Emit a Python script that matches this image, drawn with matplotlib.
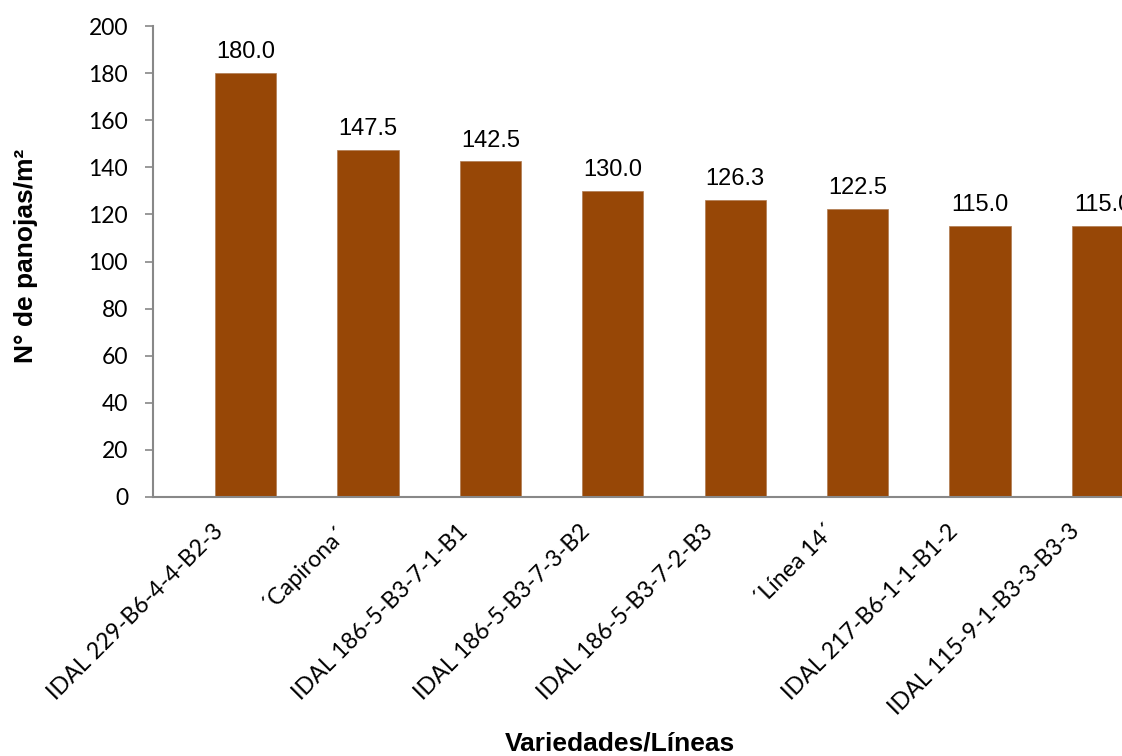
import matplotlib.pyplot as plt

variedades = ["IDAL 229-B6-4-4-B2-3", "´Capirona´", "IDAL 186-5-B3-7-1-B1",
              "IDAL 186-5-B3-7-3-B2", "IDAL 186-5-B3-7-2-B3", "´Línea 14´",
              "IDAL 217-B6-1-1-B1-2", "IDAL 115-9-1-B3-3-B3-3"]
panojas = [180.0, 147.5, 142.5, 130.0, 126.3, 122.5, 115.0, 115.0]
yticks = [0, 20, 40, 60, 80, 100, 120, 140, 160, 180, 200]

fig = plt.figure(figsize=(11.22, 7.56), dpi=100)
ax = fig.add_axes([0.1364, 0.3426, 0.8636, 0.623])

x = list(range(len(variedades)))
ax.bar(x, panojas, width=0.5, color="#974706", edgecolor="#b07a50", linewidth=0.5)

for xi, v in zip(x, panojas):
    ax.annotate(f"{v:.1f}", (xi, v), xytext=(0, 7), textcoords="offset points",
                ha="center", va="bottom", fontsize=17, family="Liberation Sans",
                annotation_clip=False)

ax.set_xlim(-0.756, 7.16)
ax.set_ylim(0, 200)
ax.set_yticks(yticks)
ax.set_yticklabels([str(t) for t in yticks], family="Lato", fontsize=16.5)
ax.tick_params(axis="y", length=6, width=1.2, color="#888888", pad=12)

# category names, rotated and hung below-left of each bar
ax.set_xticks(x)
ax.set_xticklabels([])
ax.tick_params(axis="x", length=0)
for xi, name in zip(x, variedades):
    ax.annotate(name, (xi, 0), xycoords=("data", "axes fraction"),
                xytext=(-24, -17), textcoords="offset points",
                rotation=45, rotation_mode="anchor", ha="right", va="top",
                family="Lato", fontsize=16.7, annotation_clip=False)

for s in ["top", "right"]:
    ax.spines[s].set_visible(False)
for s in ["left", "bottom"]:
    ax.spines[s].set_color("#888888")
    ax.spines[s].set_linewidth(1.5)

fig.text(0.023, 0.662, "N° de panojas/m²", rotation=90, ha="center", va="center",
         fontsize=19, fontweight="bold", family="Liberation Sans")
fig.text(0.5526, 0.007, "Variedades/Líneas", ha="center", va="baseline",
         fontsize=19, fontweight="bold", family="Liberation Sans")

fig.savefig("out.png", dpi=100)
